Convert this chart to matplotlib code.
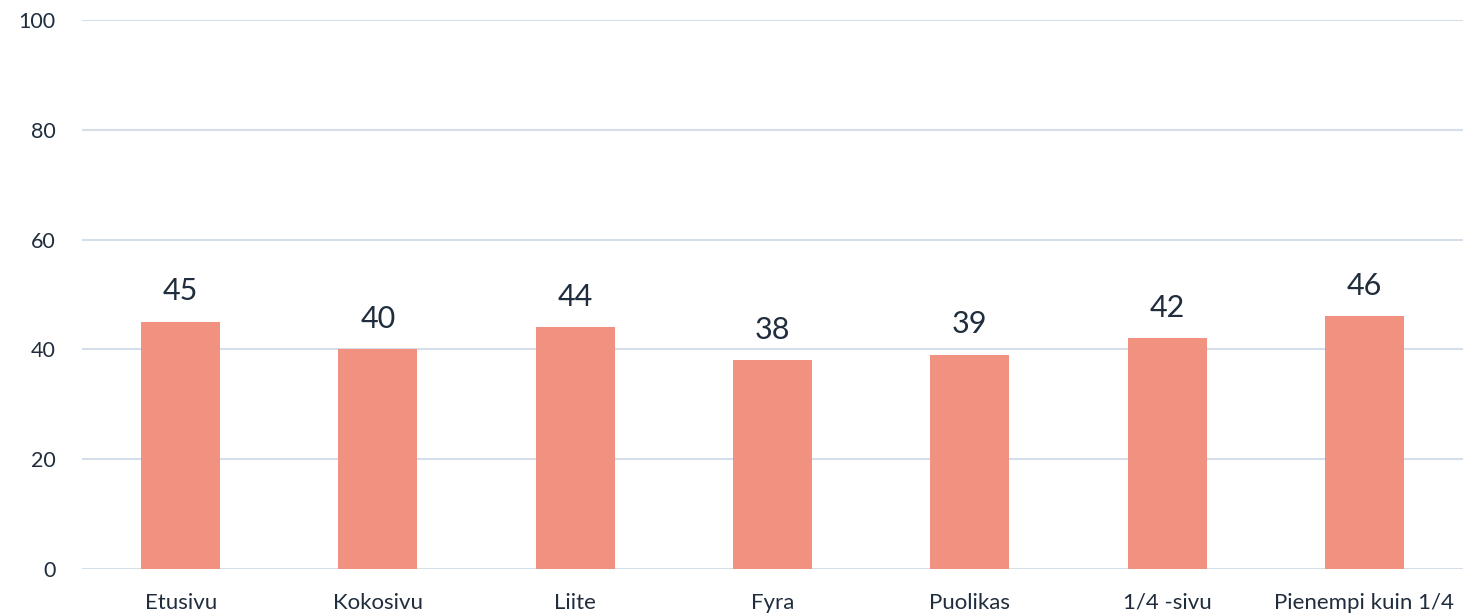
import matplotlib.pyplot as plt

categories = ['Etusivu', 'Kokosivu', 'Liite', 'Fyra', 'Puolikas', '1/4 -sivu', 'Pienempi kuin 1/4']
values = [45, 40, 44, 38, 39, 42, 46]
yticks = [0, 20, 40, 60, 80, 100]

bar_color = '#f19180'
text_color = '#1f2d3d'
grid_color = '#d5dfea'

plt.rcParams['font.family'] = ['Lato', 'DejaVu Sans']

fig = plt.figure(figsize=(14.63, 6.15), dpi=100)
ax = fig.add_axes([82 / 1463, 1 - 569 / 615, 1 - 82 / 1463, (569 - 20) / 615])

x = range(len(categories))
bars = ax.bar(x, values, width=0.4, color=bar_color, zorder=3)

for xi, v in zip(x, values):
    ax.annotate(str(v), (xi, v), xytext=(0, 12), textcoords='offset points',
                ha='center', va='bottom', fontsize=22, color=text_color)

ax.set_xlim(-0.5, len(categories) - 0.5)
ax.set_ylim(0, 100)
ax.set_yticks(yticks)
ax.set_xticks(list(x))
ax.set_xticklabels(categories)
ax.tick_params(axis='x', length=0, labelsize=16, colors=text_color, pad=17)
ax.tick_params(axis='y', length=0, labelsize=15.5, colors=text_color, pad=19)
ax.grid(axis='y', color=grid_color, linewidth=1.5, zorder=0)
for s in ax.spines.values():
    s.set_visible(False)

fig.savefig('out.png', dpi=100)
